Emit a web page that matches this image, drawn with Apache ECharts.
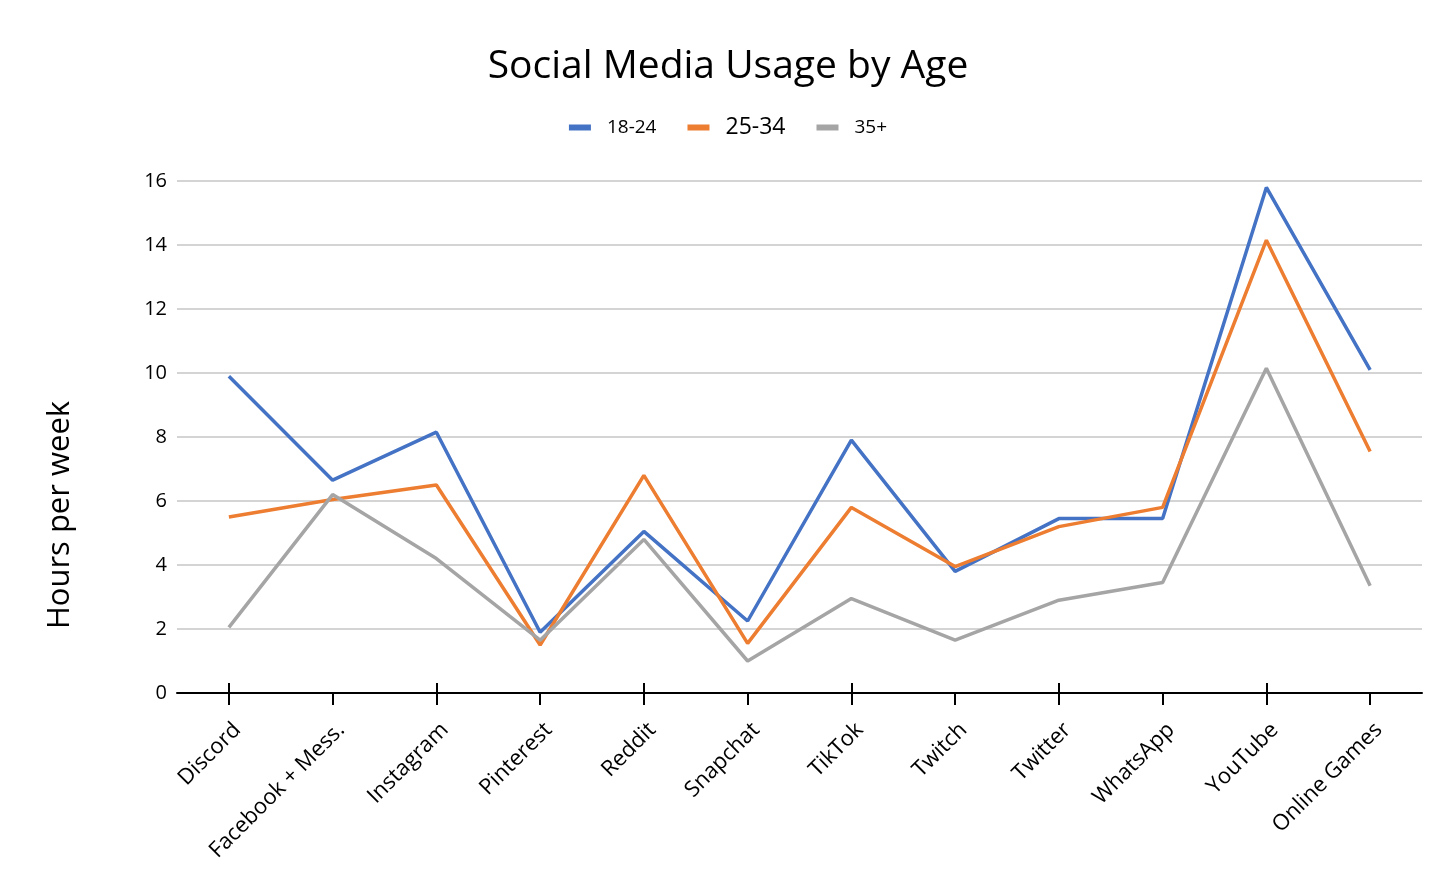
<!DOCTYPE html>
<html>
<head>
<meta charset="utf-8">
<script src="https://cdn.jsdelivr.net/npm/echarts@6/dist/echarts.min.js"></script>
<style>html,body{margin:0;padding:0;background:#fff;}#c{width:1456px;height:883px;}</style>
</head>
<body>
<div id="c"></div>
<script>
var categories = ['Discord','Facebook + Mess.','Instagram','Pinterest','Reddit','Snapchat','TikTok','Twitch','Twitter','WhatsApp','YouTube','Online Games'];
var age1824 = [9.9, 6.65, 8.15, 1.9, 5.05, 2.25, 7.9, 3.8, 5.45, 5.45, 15.8, 10.1];
var age2534 = [5.5, 6.05, 6.5, 1.5, 6.8, 1.55, 5.8, 3.95, 5.2, 5.8, 14.15, 7.55];
var age35 = [2.05, 6.2, 4.2, 1.65, 4.8, 1.0, 2.95, 1.65, 2.9, 3.45, 10.15, 3.35];
var yTicks = [0, 2, 4, 6, 8, 10, 12, 14, 16];

var font = "'Open Sans', 'Noto Sans', sans-serif";
var chart = echarts.init(document.getElementById('c'));
function line(name, data, color) {
  return { name: name, type: 'line', data: data, symbol: 'none', xAxisIndex: 0,
    lineStyle: { width: 3.5, color: color }, itemStyle: { color: color } };
}
chart.setOption({
  animation: false,
  textStyle: { fontFamily: font },
  title: { text: 'Social Media Usage by Age', left: 'center', top: 42,
    textStyle: { fontFamily: font, fontSize: 39, fontWeight: 'normal', color: '#000' } },
  legend: { top: 111, left: 'center', itemWidth: 22, itemHeight: 6, itemGap: 31,
    icon: 'rect',
    textStyle: { fontFamily: font, color: '#000', fontSize: 19, padding: [0, 0, 0, 11] },
    data: [
      { name: '18-24', textStyle: { fontSize: 19, padding: [0, 0, 0, 11] } },
      { name: '25-34', textStyle: { fontSize: 23, padding: [0, 0, 0, 11] } },
      { name: '35+', textStyle: { fontSize: 19, padding: [0, 0, 0, 11] } }
    ] },
  grid: { left: 177, right: 34, top: 181, bottom: 190 },
  xAxis: [
    { type: 'category', data: categories, boundaryGap: true,
      axisLine: { lineStyle: { color: '#000', width: 2 } },
      axisTick: { show: true, alignWithLabel: true, length: 12, lineStyle: { color: '#000', width: 2 } },
      axisLabel: { rotate: 45, fontSize: 22, color: '#000', fontFamily: font, margin: 42, interval: 0,
        padding: [0, -12, 0, 0] },
      splitLine: { show: false } },
    { type: 'category', data: categories, boundaryGap: true, position: 'bottom',
      axisLine: { show: false },
      axisTick: { show: true, inside: true, alignWithLabel: true, length: 10, lineStyle: { color: '#000', width: 2 } },
      axisLabel: { show: false }, splitLine: { show: false } }
  ],
  yAxis: { type: 'value', min: 0, max: 16, interval: 2,
    axisLine: { show: false }, axisTick: { show: false },
    axisLabel: { fontSize: 20, color: '#000', fontFamily: font, margin: 10,
      formatter: function (v) { return yTicks.indexOf(v) >= 0 ? String(v) : ''; } },
    splitLine: { lineStyle: { color: '#c6c6c6', width: 1.5 } } },
  graphic: [{ type: 'text', x: 60, y: 515, rotation: Math.PI / 2,
    style: { text: 'Hours per week', fontFamily: font, fontSize: 31, fill: '#000',
      textAlign: 'center', textVerticalAlign: 'middle' } }],
  series: [
    line('18-24', age1824, '#4472C4'),
    line('25-34', age2534, '#ED7D31'),
    line('35+', age35, '#A5A5A5')
  ]
});
</script>
</body>
</html>
